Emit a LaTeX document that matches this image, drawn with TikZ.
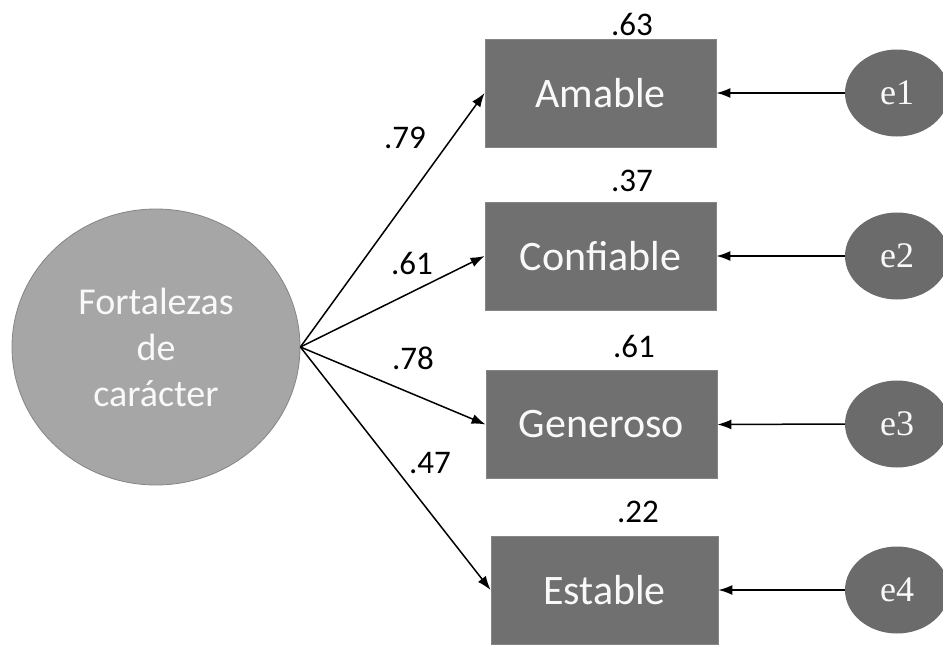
\documentclass[tikz,border=0pt]{standalone}
\usepackage{fontspec}
\setmainfont{Carlito}
\newfontfamily\errfont{Liberation Serif}
\usetikzlibrary{arrows.meta,shapes.geometric}
\definecolor{latgray}{HTML}{A6A6A6}
\definecolor{boxgray}{HTML}{707070}
\definecolor{errgray}{HTML}{6B6B6B}

\begin{document}
\begin{tikzpicture}[x=1pt,y=-1pt,
  latent/.style={ellipse,fill=latgray,draw=latgray!80!black,line width=0.8pt,
    minimum width=288pt,minimum height=276pt,text=white!95!gray,align=center,
    font=\fontsize{38}{46}\selectfont},
  obsbox/.style={rectangle,fill=boxgray,draw=boxgray!85!white,line width=0.8pt,
    minimum width=231pt,minimum height=108pt,text=white!95!gray,
    font=\fontsize{42}{50}\selectfont},
  errnode/.style={ellipse,fill=errgray,minimum width=104pt,minimum height=87pt,
    inner sep=0pt,text=white!95!gray,font=\errfont\fontsize{36}{40}\selectfont},
  coef/.style={font=\fontsize{33}{36}\selectfont},
  path/.style={line width=1.5pt,-{Latex[length=14pt,width=10pt]}}]
  \useasboundingbox (0,0) rectangle (943,645);
  \node[latent] (F) at (156,347) {Fortalezas\\de\\carácter};
  \node[obsbox] (amable) at (600.5,93) {Amable};
  \node[obsbox] (confiable) at (600.5,256) {Confiable};
  \node[obsbox] (generoso) at (601.5,424.5) {Generoso};
  \node[obsbox,minimum width=227pt] (estable) at (604.5,590) {Estable};
  \node[errnode] (e1) at (897,93) {e1};
  \node[errnode] (e2) at (897,256) {e2};
  \node[errnode] (e3) at (897,424) {e3};
  \node[errnode] (e4) at (897,590) {e4};
  \draw[path] (F.east) -- (amable.west);
  \draw[path] (F.east) -- (confiable.west);
  \draw[path] (F.east) -- (generoso.west);
  \draw[path] (F.east) -- (estable.west);
  \draw[path] (e1.west) -- (amable.east);
  \draw[path] (e2.west) -- (confiable.east);
  \draw[path] (e3.west) -- (generoso.east);
  \draw[path] (e4.west) -- (estable.east);
  % loadings
  \node[coef] (l1) at (405,138) {.79};
  \node[coef] (l2) at (412,263) {.61};
  \node[coef] (l3) at (413,358) {.78};
  \node[coef] (l4) at (430,463) {.47};
  % R squared
  \node[coef] (r1) at (632,24) {.63};
  \node[coef] (r2) at (632,181) {.37};
  \node[coef] (r3) at (634,346) {.61};
  \node[coef] (r4) at (638,512) {.22};
\end{tikzpicture}
\end{document}
